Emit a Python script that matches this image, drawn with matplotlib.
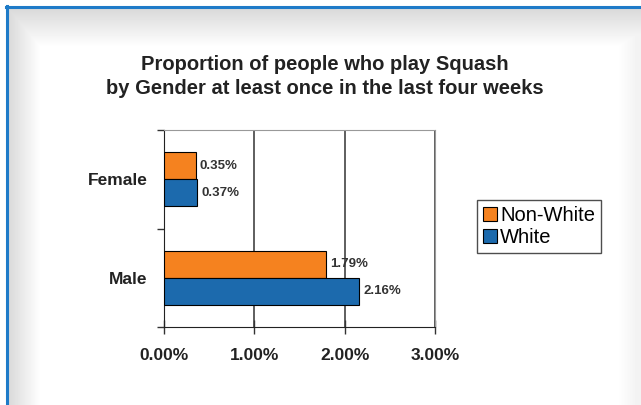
import numpy as np
import matplotlib.pyplot as plt
from matplotlib.lines import Line2D
from matplotlib.ticker import FixedLocator

plt.rcParams['font.family'] = ['Liberation Sans', 'DejaVu Sans']

# data
genders = ['Male', 'Female']
non_white = [1.79, 0.35]
white = [2.16, 0.37]
x_ticks = [0, 1, 2, 3]

orange = '#F5821F'
blue = '#1C6AAD'

fig = plt.figure(figsize=(6.41, 4.05), dpi=100)

# background with the soft frame shading
bg = fig.add_axes([0, 0, 1, 1], zorder=-10)
H, W = 405, 641
img = np.ones((H, W))
xs = np.arange(W)
ys = np.arange(H)
left = np.clip((xs - 8) / 32.0, 0, 1)
top = np.clip((ys - 8) / 38.0, 0, 1)
right = np.clip((W - 4 - xs) / 20.0, 0, 1)
shade = np.minimum(0.85 + 0.15 * left[None, :], 0.85 + 0.15 * top[:, None])
shade = np.minimum(shade, 0.95 + 0.05 * right[None, :])
img = np.minimum(img, shade)
img[:6, :] = 1
img[:, :6] = 1
bg.imshow(img, cmap='gray', vmin=0, vmax=1, aspect='auto', extent=[0, W, H, 0])
bg.set_xlim(0, W)
bg.set_ylim(H, 0)
bg.axis('off')
bg.add_line(Line2D([7, 7], [6, H], color='#1E7BC8', lw=2.2))
bg.add_line(Line2D([6, W], [7, 7], color='#1E7BC8', lw=2.2))

ax = fig.add_axes([164 / 641, 1 - 327 / 405, 271 / 641, 197 / 405])
ypos = np.arange(len(genders))
h = 0.275
ax.barh(ypos + h / 2, non_white, height=h, color=orange, edgecolor='black', lw=0.8, label='Non-White', zorder=3)
ax.barh(ypos - h / 2, white, height=h, color=blue, edgecolor='black', lw=0.8, label='White', zorder=3)

for y, v in zip(ypos + h / 2, non_white):
    ax.annotate(f'{v:.2f}%', (v, y), xytext=(3, 0), textcoords='offset points',
                va='center', ha='left', fontsize=9.5, fontweight='bold', color='#333333')
for y, v in zip(ypos - h / 2, white):
    ax.annotate(f'{v:.2f}%', (v, y), xytext=(3, 0), textcoords='offset points',
                va='center', ha='left', fontsize=9.5, fontweight='bold', color='#333333')

ax.set_xlim(0, 3)
ax.set_ylim(-0.5, 1.5)
ax.set_xticks(x_ticks)
ax.set_xticklabels([f'{t:.2f}%' for t in x_ticks], fontsize=12.5, fontweight='bold', color='#222222')
ax.set_yticks(ypos)
ax.set_yticklabels(genders, fontsize=12.5, fontweight='bold', color='#222222')
ax.yaxis.set_minor_locator(FixedLocator([-0.5, 0.5, 1.5]))
ax.tick_params(axis='y', which='major', length=0, pad=12)
ax.tick_params(axis='y', which='minor', length=5, width=1, color='#333333')
ax.tick_params(axis='x', direction='inout', length=10, width=1, color='#333333', pad=10)
ax.grid(axis='x', color='#333333', lw=1.1, zorder=1)
ax.spines['left'].set_color('#222222')
ax.spines['bottom'].set_color('#222222')
ax.spines['top'].set_color('#999999')
ax.spines['right'].set_color('#999999')
ax.set_facecolor('white')

fig.text(0.507, 1 - 64 / 405, 'Proportion of people who play Squash', ha='center', va='center',
         fontsize=14.5, fontweight='bold', color='#222222')
fig.text(0.507, 1 - 89 / 405, 'by Gender at least once in the last four weeks', ha='center', va='center',
         fontsize=14.5, fontweight='bold', color='#222222')

handles, labels = ax.get_legend_handles_labels()
leg = fig.legend(handles, labels, loc='upper left', bbox_to_anchor=(477 / 641, 1 - 200 / 405),
                 fontsize=14.5, frameon=True, fancybox=False, edgecolor='#222222',
                 handlelength=0.7, handleheight=0.7, handletextpad=0.15, borderpad=0.3,
                 labelspacing=0.15, borderaxespad=0)
leg.get_frame().set_linewidth(1.0)

fig.savefig('out.png', dpi=100)
